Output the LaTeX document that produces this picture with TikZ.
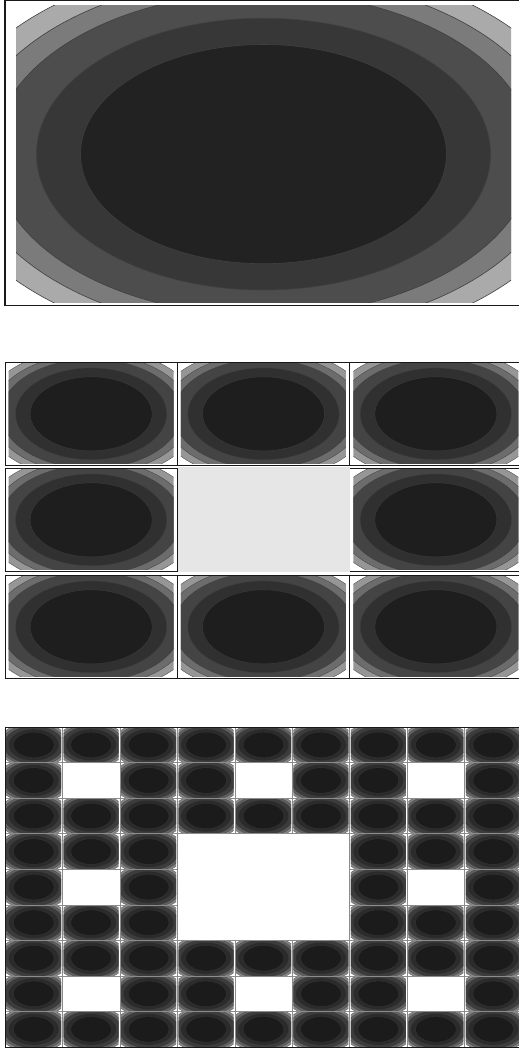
\documentclass[tikz,border=0pt]{standalone}
\definecolor{cA}{HTML}{222222}
\definecolor{cB}{HTML}{373737}
\definecolor{cC}{HTML}{4D4D4D}
\definecolor{cD}{HTML}{7B7B7B}
\definecolor{cE}{HTML}{AAAAAA}
\definecolor{holegray}{HTML}{E6E6E6}
\tikzset{
  contourline/.style={draw=black!75},
  panelframe/.style={draw=black!90, line width=1pt},
}
% #1 x, #2 y, #3 xscale, #4 yscale, #5 frame width, #6 contour width, #7 colour strength, #8 frame colour
\newcommand{\ctile}[8]{%
 \begin{scope}[shift={(#1,#2)},xscale=#3,yscale=#4]
  \fill[white] (0,0) rectangle (517,305);
  \begin{scope}
   \clip (11,5) rectangle (506,302);
   \foreach \ra/\rb/\cc in {325/194.6/cE, 297/177.8/cD, 270/161.7/cC, 227/135.9/cB, 183/109.6/cA}
     \filldraw[fill=\cc!#7!black, contourline, line width=#6] (258.5,153.5) ellipse [x radius=\ra, y radius=\rb];
  \end{scope}
  \draw[draw=#8, line width=#5] (0,0) rectangle (517,305);
 \end{scope}}
\begin{document}
\begin{tikzpicture}[x=1pt,y=-1pt]
\useasboundingbox (0,0) rectangle (519,1050);
\fill[white] (0,0) rectangle (519,1050);
% panel 1
\ctile{5}{0.6}{1}{1}{1.3pt}{0.6pt}{100}{black!90}
% panel 2
\foreach \i/\xx in {0/5,1/177.3,2/349.7}
  \foreach \j/\yy in {0/362,1/468,2/575} {
    \pgfmathtruncatemacro\hole{and(\i==1,\j==1)}
    \ifnum\hole=0
      \ctile{\xx}{\yy}{0.33333}{0.3377}{1pt}{0.3pt}{88}{black!90}
    \fi
  }
\fill[holegray] (178,467) rectangle (350,572);
% panel 3
\foreach \i in {0,...,8}
  \foreach \j in {0,...,8} {
    \pgfmathtruncatemacro\hole{or(and(mod(\i,3)==1,mod(\j,3)==1),and(and(\i>2,\i<6),and(\j>2,\j<6)))}
    \ifnum\hole=0
      \ctile{5+\i*57.444}{727+\j*35.556}{0.11111}{0.11658}{0.4pt}{0.15pt}{78}{black!45}
    \fi
  }
\draw[panelframe] (5,727) rectangle (522,1047);
\end{tikzpicture}
\end{document}
